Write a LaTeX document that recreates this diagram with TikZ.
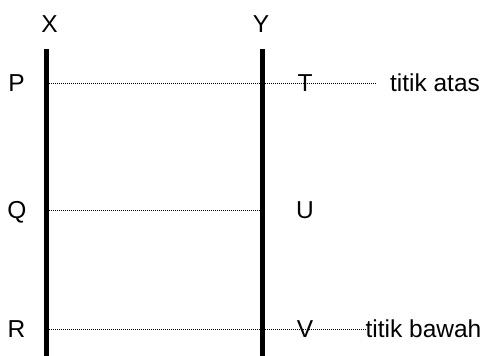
\documentclass[tikz,border=0pt]{standalone}
\usepackage{fontspec}
\setmainfont{Liberation Sans}
\begin{document}
\begin{tikzpicture}[x=1pt,y=-1pt,
  lbl/.style={inner sep=0pt,anchor=base,font=\fontsize{24.5}{28}\selectfont},
  pole/.style={line width=5pt},
  dotline/.style={line width=1pt,dash pattern=on 1pt off 1pt}]
\useasboundingbox (0,0) rectangle (483,356);
% poles
\coordinate (xt) at (46,49);
\coordinate (xb) at (46,356);
\coordinate (yt) at (262,49);
\coordinate (yb) at (262,356);
\draw[pole] (xt) -- (xb);
\draw[pole] (yt) -- (yb);
% top labels
\node[lbl] (X) at (49.5,32) {X};
\node[lbl] (Y) at (261,32) {Y};
% left labels
\node[lbl] (P) at (16.5,92) {P};
\node[lbl] (Q) at (17,218) {Q};
\node[lbl] (R) at (16.5,337.5) {R};
% right labels
\node[lbl] (T) at (305,92) {T};
\node[lbl] (U) at (305,218) {U};
\node[lbl] (V) at (305,337.5) {V};
\node[lbl] (atas) at (435,92) {titik atas};
\node[lbl] (bawah) at (423.5,337.5) {titik bawah};
% dotted lines
\coordinate (p1) at (49,83);
\coordinate (p2) at (376,83);
\coordinate (q1) at (49,210);
\coordinate (q2) at (262,210);
\coordinate (r1) at (49,329);
\coordinate (r2) at (367,329);
\draw[dotline] (p1) -- (p2);
\draw[dotline] (q1) -- (q2);
\draw[dotline] (r1) -- (r2);
\end{tikzpicture}
\end{document}
